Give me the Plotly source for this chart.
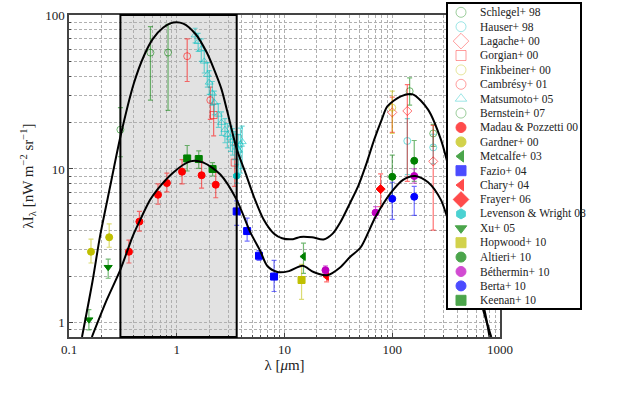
import plotly.graph_objects as go

W, H = 628, 394

# model curves
upper_x = [0.132, 0.165, 0.194, 0.24, 0.3, 0.4, 0.5, 0.6, 0.75, 0.93, 1.15, 1.5, 1.9, 2.2,
           2.6, 2.95, 3.6, 4.3, 5.2, 6.4, 8.0, 9.5, 12, 14, 18, 23, 28, 33, 41, 48.5, 58, 68,
           80, 90, 120, 155, 215, 283, 350, 430, 530, 665, 830]
upper_y = [0.81, 1.85, 3.65, 7.6, 16.2, 36, 55, 70, 83, 89.5, 88, 75, 57, 45,
           33, 23.5, 13.5, 9.6, 6.6, 4.7, 3.8, 3.55, 3.5, 3.62, 3.6, 3.48, 3.8, 4.5, 6.1, 7.8, 11, 15.5,
           21, 25.5, 29.6, 30.5, 24.3, 15.5, 9, 5, 2.8, 1.37, 0.81]
lower_x = [0.163, 0.225, 0.3, 0.39, 0.46, 0.566, 0.66, 0.93, 1.33, 1.77, 2.54, 3.6, 4.8, 6.0, 6.9,
           8.6, 11, 14.7, 18.6, 25, 33, 41, 51, 70, 97, 126, 163, 215, 283, 330, 450, 560, 700, 800]
lower_y = [0.81, 1.42, 2.22, 3.65, 4.7, 6.3, 7.35, 9.5, 11.2, 11.0, 9.2, 6.3, 3.9, 2.9, 2.35,
           2.14, 2.17, 2.35, 2.14, 2.04, 2.3, 2.7, 3.1, 4.9, 7.0, 8.5, 9.0, 8.2, 6.3, 4.7, 3.0, 2.0, 1.3, 0.81]

# observations: x, y, +err, -err
schlegel_x = [145, 240]; schlegel_y = [32, 17]; schlegel_ep = [7, 2.5]; schlegel_em = [6, 3]
hauser_x = [138, 240]; hauser_y = [15.2, 13.8]; hauser_ep = [6, 3]; hauser_em = [6, 3]
lagache_x = [100, 138, 240]; lagache_y = [23.3, 23.8, 11.2]; lagache_ep = [6, 11.5, 8]; lagache_em = [6, 15.5, 7.2]
gorgian_x = [2.2, 3.45]; gorgian_y = [22.4, 11.0]; gorgian_ep = [4, 3.3]; gorgian_em = [6, 3.3]
finkbeiner_x = [100]; finkbeiner_y = [25]; finkbeiner_ep = [7]; finkbeiner_em = [8]
cambresy_x = [1.25, 2.05]; cambresy_y = [54, 28]; cambresy_ep = [16, 6]; cambresy_em = [17, 7]
matsumoto_x = [1.48, 1.58, 1.69, 1.80, 1.92, 2.0, 2.14, 2.23, 2.43, 2.6, 2.8, 2.95, 3.15, 3.3,
               3.45, 3.6, 3.75, 3.9, 4.05]
matsumoto_y = [74, 67, 60, 50, 41, 36.5, 31, 27, 22.6, 20, 18, 16.7, 16, 15.3,
               14.5, 13.8, 13.2, 14.4, 15]
matsumoto_ep = [8, 9, 10, 9, 8, 7, 6, 5, 4, 3.5, 3.2, 3, 3, 3, 3, 3, 3.5, 4, 4]
matsumoto_em = [8, 9, 10, 8, 7, 6, 5, 4.5, 4, 3.5, 3.2, 3, 3, 3, 3, 3.5, 4, 5, 5]
bernstein_x = [0.3, 0.57, 0.83]; bernstein_y = [18, 57, 57]; bernstein_ep = [7, 27, 30]; bernstein_em = [6, 29, 33]
madau_x = [0.36, 0.45, 0.67, 0.81, 1.12, 1.7, 2.3]
madau_y = [2.9, 4.55, 6.8, 8.1, 9.6, 9.1, 7.9]
madau_ep = [0.55, 0.75, 1.2, 1.3, 1.9, 2.0, 1.6]
madau_em = [0.45, 0.6, 0.9, 1.0, 1.6, 1.6, 1.4]
gardner_x = [0.16, 0.236]; gardner_y = [2.9, 3.6]; gardner_ep = [0.6, 0.8]; gardner_em = [0.45, 0.5]
metcalfe_x = [15]; metcalfe_y = [2.7]; metcalfe_ep = [0.6]; metcalfe_em = [0.6]
fazio_x = [3.6, 4.5, 5.8, 8.0]; fazio_y = [5.3, 3.95, 2.73, 2.0]
fazio_ep = [0.9, 0.85, 0.22, 0.55]; fazio_em = [1.0, 0.55, 0.18, 0.4]
chary_x = [24.6]; chary_y = [2.0]; chary_ep = [0.2]; chary_em = [0.15]
frayer_x = [78]; frayer_y = [7.4]; frayer_ep = [1.9]; frayer_em = [1.7]
levenson_x = [3.6]; levenson_y = [9.0]; levenson_ep = [1.7]; levenson_em = [0.9]
xu_x = [0.153, 0.231]; xu_y = [1.05, 2.3]; xu_ep = [0.17, 0.3]; xu_em = [0.15, 0.35]
hopwood_x = [14.4]; hopwood_y = [1.9]; hopwood_ep = [0.5]; hopwood_em = [0.48]
altieri_x = [100, 160]; altieri_y = [8.9, 11.3]; altieri_ep = [3.4, 4.0]; altieri_em = [2.5, 3.0]
bethermin_x = [24, 70, 160]; bethermin_y = [2.2, 5.2, 9.0]; bethermin_ep = [0.15, 0.5, 1.0]; bethermin_em = [0.15, 0.4, 0.9]
berta_x = [100, 160]; berta_y = [6.4, 6.6]; berta_ep = [1.8, 1.1]; berta_em = [1.7, 1.6]
keenan_x = [1.25, 1.6, 2.15]; keenan_y = [11.7, 11.6, 10.0]; keenan_ep = [2.5, 1.5, 1.0]; keenan_em = [2.0, 1.5, 1.0]

x_tickvals = [0.1, 1, 10, 100, 1000]
x_ticktext = ['0.1', '1', '10', '100', '1000']
y_tickvals = [1, 10, 100]
y_ticktext = ['1', '10', '100']

RED, GRN, BLU = (255, 0, 0), (0, 128, 0), (0, 0, 255)
CYN, MAG, YEL = (0, 191, 191), (191, 0, 191), (191, 191, 0)


def rgba(c, a):
    return 'rgba(%d,%d,%d,%s)' % (c[0], c[1], c[2], a)


# name, x, y, ep, em, symbol, colour, open?
sets = [
    ('Schlegel+ 98', schlegel_x, schlegel_y, schlegel_ep, schlegel_em, 'circle-open', GRN, True),
    ('Hauser+ 98', hauser_x, hauser_y, hauser_ep, hauser_em, 'circle-open', CYN, True),
    ('Lagache+ 00', lagache_x, lagache_y, lagache_ep, lagache_em, 'diamond-open', RED, True),
    ('Gorgian+ 00', gorgian_x, gorgian_y, gorgian_ep, gorgian_em, 'square-open', RED, True),
    ('Finkbeiner+ 00', finkbeiner_x, finkbeiner_y, finkbeiner_ep, finkbeiner_em, 'circle-open', YEL, True),
    ('Cambrésy+ 01', cambresy_x, cambresy_y, cambresy_ep, cambresy_em, 'circle-open', RED, True),
    ('Matsumoto+ 05', matsumoto_x, matsumoto_y, matsumoto_ep, matsumoto_em, 'triangle-up-open', CYN, True),
    ('Bernstein+ 07', bernstein_x, bernstein_y, bernstein_ep, bernstein_em, 'circle-open', GRN, True),
    ('Madau & Pozzetti 00', madau_x, madau_y, madau_ep, madau_em, 'circle', RED, False),
    ('Gardner+ 00', gardner_x, gardner_y, gardner_ep, gardner_em, 'circle', YEL, False),
    ('Metcalfe+ 03', metcalfe_x, metcalfe_y, metcalfe_ep, metcalfe_em, 'triangle-left', GRN, False),
    ('Fazio+ 04', fazio_x, fazio_y, fazio_ep, fazio_em, 'square', BLU, False),
    ('Chary+ 04', chary_x, chary_y, chary_ep, chary_em, 'triangle-left', RED, False),
    ('Frayer+ 06', frayer_x, frayer_y, frayer_ep, frayer_em, 'diamond', RED, False),
    ('Levenson & Wright 08', levenson_x, levenson_y, levenson_ep, levenson_em, 'hexagon', CYN, False),
    ('Xu+ 05', xu_x, xu_y, xu_ep, xu_em, 'triangle-down', GRN, False),
    ('Hopwood+ 10', hopwood_x, hopwood_y, hopwood_ep, hopwood_em, 'square', YEL, False),
    ('Altieri+ 10', altieri_x, altieri_y, altieri_ep, altieri_em, 'circle', GRN, False),
    ('Béthermin+ 10', bethermin_x, bethermin_y, bethermin_ep, bethermin_em, 'circle', MAG, False),
    ('Berta+ 10', berta_x, berta_y, berta_ep, berta_em, 'circle', BLU, False),
    ('Keenan+ 10', keenan_x, keenan_y, keenan_ep, keenan_em, 'square', GRN, False),
]

SERIF = 'Liberation Serif, Times New Roman, serif'
fig = go.Figure()

for name, x, y, ep, em, sym, c, op in sets:
    mcol = rgba(c, 0.55) if op else rgba(c, 1)
    fig.add_trace(go.Scatter(
        x=x, y=y, mode='markers', name=name, showlegend=False,
        marker=dict(symbol=sym, size=7, color=mcol, line=dict(width=1, color=mcol)),
        error_y=dict(type='data', symmetric=False, array=ep, arrayminus=em,
                     color=rgba(c, 0.55), thickness=1.2, width=2.5)))

for cx, cy in [(upper_x, upper_y), (lower_x, lower_y)]:
    fig.add_trace(go.Scatter(x=cx, y=cy, mode='lines', showlegend=False,
                             line=dict(color='black', width=2, shape='spline', smoothing=0.8)))

# hand-made legend on its own (hidden) axes, in page pixels
LX0, LX1, LY0, LY1 = 447, 581, 3, 309
row0, rowh = 12.3, 14.4
leg_y = [row0 + rowh * i for i in range(len(sets))]
leg_col = [rgba(s[6], 0.55) if s[7] else rgba(s[6], 1) for s in sets]
fig.add_trace(go.Scatter(
    x=[461] * len(sets), y=leg_y, xaxis='x2', yaxis='y2', mode='markers', showlegend=False,
    marker=dict(symbol=[s[5] for s in sets],
                size=[12 if 'diamond' in s[5] else 10 for s in sets],
                color=leg_col, line=dict(width=1, color=leg_col))))

annotations = []
for s, yy in zip(sets, leg_y):
    annotations.append(dict(x=478, y=yy, xref='x2', yref='y2', text=s[0], showarrow=False,
                            xanchor='left', yanchor='middle',
                            font=dict(family=SERIF, size=11.5, color='#222')))

grid = dict(gridcolor='#b0b0b0', griddash='3px,2px', gridwidth=0.8)
hidden = dict(showgrid=False, zeroline=False, showticklabels=False, showline=False,
              ticks='', automargin=False, fixedrange=True)
fig.update_layout(
    width=W, height=H, margin=dict(l=0, r=0, t=0, b=0, autoexpand=False),
    paper_bgcolor='white', plot_bgcolor='white',
    font=dict(family=SERIF, color='#222'),
    xaxis=dict(type='log', range=[-1, 3], domain=[69 / W, 500 / W], anchor='y', automargin=False,
               tickvals=x_tickvals, ticktext=x_ticktext, tickfont=dict(size=13),
               ticks='inside', ticklen=4, tickcolor='#444',
               showline=True, mirror=True, linecolor='#444', linewidth=1.5,
               showgrid=True, **grid,
               minor=dict(dtick='D1', showgrid=True, ticks='inside', ticklen=2, tickcolor='#444', **grid),
               title=dict(text='λ [<i>μ</i>m]', font=dict(size=15), standoff=2)),
    yaxis=dict(type='log', range=[-0.0915, 2], domain=[1 - 337 / H, 1 - 15 / H], anchor='x',
               automargin=False,
               tickvals=y_tickvals, ticktext=y_ticktext, tickfont=dict(size=13),
               ticks='inside', ticklen=4, tickcolor='#444',
               showline=True, mirror=True, linecolor='#444', linewidth=1.5,
               showgrid=True, **grid,
               minor=dict(dtick='D1', showgrid=True, ticks='inside', ticklen=2, tickcolor='#444', **grid),
               title=dict(text='λI<sub>λ</sub> [nW m<sup>−2</sup> sr<sup>−1</sup>]',
                          font=dict(size=15), standoff=8)),
    xaxis2=dict(domain=[LX0 / W, LX1 / W], range=[LX0, LX1], anchor='y2', **hidden),
    yaxis2=dict(domain=[1 - LY1 / H, 1 - LY0 / H], range=[LY1, LY0], anchor='x2', **hidden),
    shapes=[
        dict(type='rect', xref='x', yref='y domain', x0=0.3, x1=3.6, y0=0, y1=1,
             fillcolor='#e2e2e2', line=dict(width=0), layer='below'),
        dict(type='rect', xref='x', yref='y domain', x0=0.3, x1=3.6, y0=0, y1=1,
             line=dict(color='black', width=2), layer='above'),
        dict(type='rect', xref='paper', yref='paper', x0=LX0 / W, x1=LX1 / W,
             y0=1 - LY1 / H, y1=1 - LY0 / H,
             line=dict(color='black', width=2), layer='above'),
    ],
    annotations=annotations,
)

# the page body has an 8px default margin; drop it so the figure sits at (0, 0)
fig.write_html('out.html', config={'displayModeBar': False},
               post_script="document.body.style.margin='0';")
